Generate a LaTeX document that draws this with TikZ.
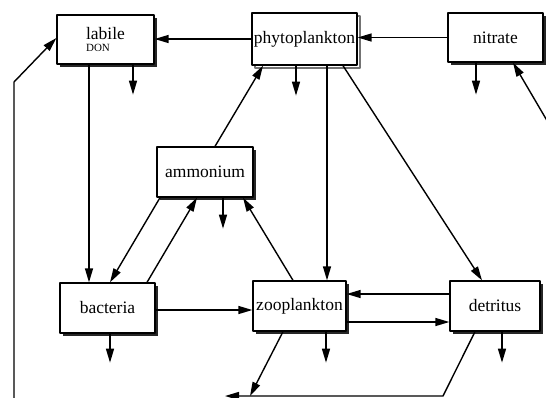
\documentclass[tikz,border=0pt]{standalone}
\usepackage{fontspec}
\setmainfont{Liberation Serif}
\usetikzlibrary{arrows.meta}
\usetikzlibrary{shadows}
\usetikzlibrary{positioning}
\usetikzlibrary{calc}
\tikzset{
  box/.style={draw, line width=1.3bp, fill=white, rectangle, inner sep=0pt,
    font=\fontsize{17.5bp}{19bp}\selectfont,
    drop shadow={shadow xshift=3bp, shadow yshift=-3bp, fill=black, opacity=.85}},
  copybox/.style={draw, line width=1.3bp, fill=white, rectangle, inner sep=0pt,
    font=\fontsize{17.5bp}{19bp}\selectfont,
    copy shadow={shadow xshift=3bp, shadow yshift=-3bp, draw=black!55, fill=white}},
  flow/.style={->, line width=1.4bp},
  loss/.style={->, line width=1.4bp},
}
\begin{document}
\begin{tikzpicture}[x=1bp,y=-1bp,>={Triangle[length=14bp,width=8bp]},line join=bevel]
\useasboundingbox (0,0) rectangle (546,397);
%%
\node (labile) at (105.5,39.5) [box, minimum width=97bp, minimum height=49bp, align=left]
  {labile\\[-7bp]{\fontsize{11bp}{12bp}\selectfont DON}};
  \node (phyto) at (304.5,39) [copybox, minimum width=105bp, minimum height=52bp] {phytoplankton};
  \node (nitrate) at (495.5,37.5) [box, minimum width=95bp, minimum height=49bp] {nitrate};
  \node (ammonium) at (205,172) [box, minimum width=96bp, minimum height=50bp] {ammonium};
  \node (bacteria) at (107.5,308) [box, minimum width=95bp, minimum height=50bp] {bacteria};
  \node (zoo) at (299.5,306) [box, minimum width=93bp, minimum height=50bp] {zooplankton};
  \node (detritus) at (495,306) [box, minimum width=90bp, minimum height=50bp] {detritus};
  \coordinate (nin) at (549,124);
  \coordinate (lout) at (14,400);
  \coordinate (lbend) at (14,82);
  \coordinate (zbot) at (250,396);
  \coordinate (dbend) at (443,396);
  \coordinate (dbot) at (225,396);
%
  \draw [flow] (phyto.west) -- (phyto.west -| labile.east);
  \draw [flow] (nitrate.west) -- (nitrate.west -| phyto.east);
  \draw [flow] (nin) -- ([xshift=17.5bp]nitrate.south);
  \draw [flow] ([xshift=-16.5bp]labile.south) -- ([xshift=-16.5bp]labile.south |- bacteria.north);
  \draw [flow] ([xshift=10bp]ammonium.north) -- ([xshift=-41.5bp]phyto.south);
  \draw [flow] ([xshift=22.5bp]phyto.south) -- ([xshift=22.5bp]phyto.south |- zoo.north);
  \draw [flow] ([xshift=38.5bp]phyto.south) -- ([xshift=-13bp]detritus.north);
  \draw [flow] ([xshift=-45bp]ammonium.south) -- ([xshift=2.5bp]bacteria.north);
  \draw [flow] ([xshift=39.5bp]bacteria.north) -- ([xshift=-8bp]ammonium.south);
  \draw [flow] ([xshift=-6.5bp]zoo.north) -- ([xshift=38bp]ammonium.south);
  \draw [flow] ([yshift=-2bp]bacteria.east) -- ([yshift=-2bp]bacteria.east -| zoo.west);
  \draw [flow] ([yshift=12bp]detritus.west) -- ([yshift=12bp]detritus.west -| zoo.east);
  \draw [flow] ([yshift=-16bp]zoo.east) -- ([yshift=-16bp]zoo.east -| detritus.west);
  \draw [flow] ([xshift=-16.5bp]zoo.south) -- (zbot);
  \draw [flow] ([xshift=-20bp]detritus.south) -- (dbend) -- (dbot);
  \draw [flow] (lout) -- (lbend) -- ([yshift=1.5bp]labile.west);
%
  \draw [loss] ([xshift=27.5bp]labile.south) -- ++(0,30);
  \draw [loss] ([xshift=-8.5bp]phyto.south) -- ++(0,30);
  \draw [loss] ([xshift=-19.5bp]nitrate.south) -- ++(0,32);
  \draw [loss] ([xshift=18bp]ammonium.south) -- ++(0,31);
  \draw [loss] ([xshift=2.5bp]bacteria.south) -- ++(0,29);
  \draw [loss] ([xshift=26.5bp]zoo.south) -- ++(0,31);
  \draw [loss] ([xshift=7bp]detritus.south) -- ++(0,31);
%
\end{tikzpicture}
\end{document}
